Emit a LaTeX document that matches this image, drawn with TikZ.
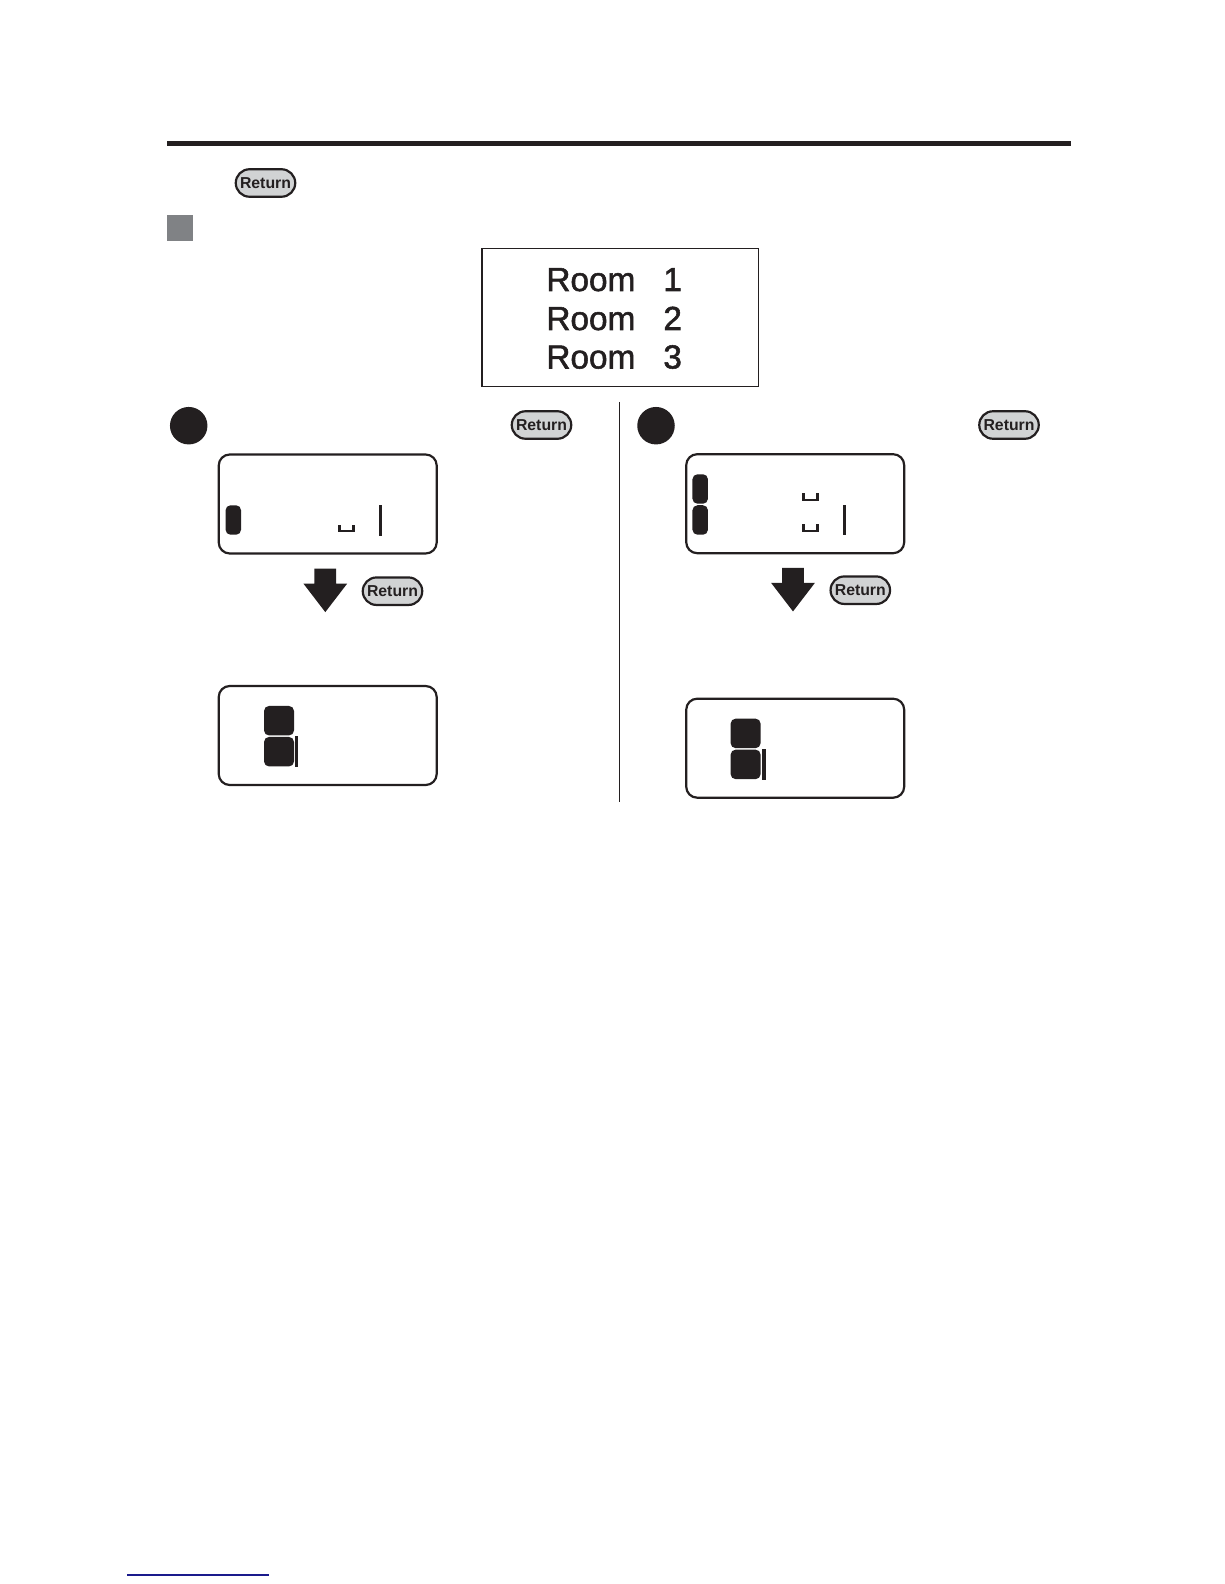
\documentclass[tikz,border=0pt]{standalone}
\usepackage{fontspec}
\usepackage{xcolor}
\usepackage{tikz}
\usetikzlibrary{shapes,arrows,positioning}
\setmainfont{Liberation Sans}
\newfontfamily\roomfont[FakeBold=1.6]{Liberation Sans}
\definecolor{inkblack}{HTML}{231F20}
\definecolor{keygray}{HTML}{D1D3D4}
\definecolor{markgray}{HTML}{808285}
\definecolor{linkblue}{HTML}{1A1A8C}

\begin{document}
\begin{tikzpicture}[
    x=0.02cm, y=-0.02cm,
    lcd/.style={rectangle, draw=inkblack, line width=1.25pt, rounded corners=0.22cm, minimum width=4.36cm, minimum height=1.98cm},
    key/.style={rounded rectangle, draw=inkblack, line width=1.25pt, fill=keygray, minimum width=1.19cm, minimum height=0.55cm, inner sep=0pt, font=\bfseries\fontsize{9}{9}\selectfont, text=inkblack},
    stepdot/.style={circle, fill=inkblack, minimum size=0.75cm, inner sep=0pt, outer sep=0pt},
    tallseg/.style={rectangle, fill=inkblack, rounded corners=0.1cm, minimum width=0.31cm, minimum height=0.59cm, inner sep=0pt, outer sep=0pt},
    wideseg/.style={rectangle, fill=inkblack, rounded corners=0.1cm, minimum width=0.6cm, minimum height=0.59cm, inner sep=0pt, outer sep=0pt},
    cursor/.style={rectangle, fill=inkblack, minimum width=0.06cm, minimum height=0.61cm, inner sep=0pt, outer sep=0pt},
    bigdown/.style={single arrow, fill=inkblack, minimum height=0.87cm, inner xsep=0.21cm, inner ysep=0pt, single arrow head extend=0.22cm, single arrow tip angle=75, shape border rotate=270, anchor=tip},
    roomtext/.style={anchor=base west, inner sep=0pt, text=inkblack, font=\roomfont\fontsize{19}{19}\selectfont},
    blank/.style={draw=inkblack, line width=1.3pt}
]
\useasboundingbox (0,0) rectangle (1224,1584);

% header
\node[rectangle, fill=inkblack, minimum width=18.1cm, minimum height=0.1cm, inner sep=0pt] (bar) at (619,143.5) {};
\node[key] (keytop) at (265.5,183) {Return};
\node[rectangle, fill=markgray, minimum width=0.52cm, minimum height=0.52cm, inner sep=0pt] (mark) at (180,228) {};

% room list
\node[rectangle, draw=inkblack, line width=1.1pt, minimum width=5.54cm, minimum height=2.76cm] (rooms) at (620,317.5) {};
\node[roomtext] (room1) at (546,291) {Room\hspace{0.56cm}1};
\node[roomtext] (room2) at (546,330) {Room\hspace{0.56cm}2};
\node[roomtext] (room3) at (546,368.5) {Room\hspace{0.56cm}3};

% left column
\node[stepdot] (dotA) at (188.7,425.7) {};
\node[key] (keyA) at (541.5,425) {Return};
\node[lcd] (lcdA) at (327.7,504) {};
\node[tallseg] (segA) at (233.3,520) {};
\draw[blank] (339.5,525.3) |- (353.5,531.2) -- (353.5,525.3);
\node[cursor] (curA) at (380.5,520.5) {};
\node[bigdown] (downA) at (325.3,612.7) {};
\node[key] (keyB) at (392.5,591.2) {Return};
\node[lcd] (lcdB) at (327.7,735.5) {};
\node[wideseg] (segB) at (279,720.7) {};
\node[wideseg, below=0.03cm of segB] (segC) {};
\node[cursor, right=0.02cm of segC] (curB) {};

\draw[inkblack, line width=0.7pt] (619.3,402) -- (619.3,802);

% right column
\node[stepdot] (dotC) at (656,425.7) {};
\node[key] (keyC) at (1009,425) {Return};
\node[lcd] (lcdC) at (795.2,503.7) {};
\node[tallseg] (segD) at (700.2,489) {};
\node[tallseg, below=0.03cm of segD] (segE) {};
\draw[blank] (803.5,493.3) |- (817.5,499.8) -- (817.5,493.3);
\draw[blank] (803.5,524.3) |- (817.5,530.8) -- (817.5,524.3);
\node[cursor] (curC) at (844.5,520) {};
\node[bigdown] (downC) at (793,612) {};
\node[key] (keyD) at (860.3,590.2) {Return};
\node[lcd] (lcdD) at (795.2,748.2) {};
\node[wideseg] (segF) at (745.6,733.4) {};
\node[wideseg, below=0.03cm of segF] (segG) {};
\node[cursor, minimum width=0.08cm, right=0.02cm of segG] (curD) {};

% footer link
\draw[linkblue, line width=0.6pt] (127,1575) -- (269,1575);
\end{tikzpicture}
\end{document}
